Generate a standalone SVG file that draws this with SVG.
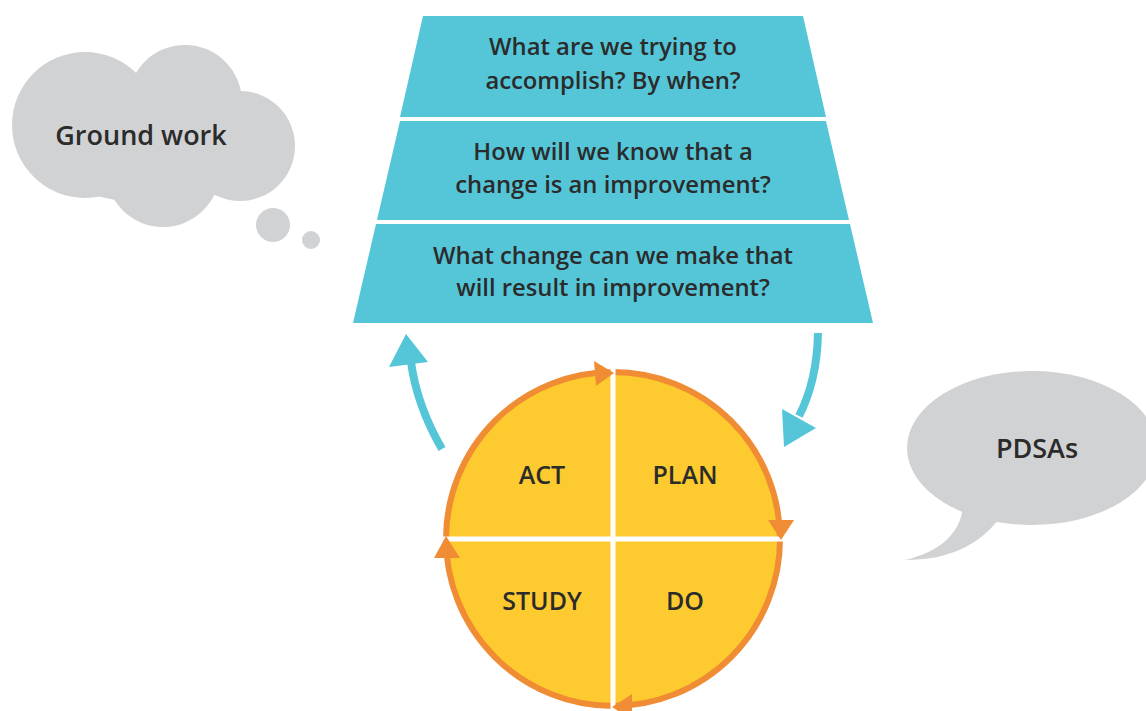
<svg xmlns="http://www.w3.org/2000/svg" width="1146" height="711" viewBox="0 0 1146 711">
<style>
.t{font-family:"Open Sans","Noto Sans","Liberation Sans",sans-serif;font-weight:600;fill:#2b2b2b;text-anchor:middle}
.q{font-size:23.8px}
.c{font-size:25px}
.b{font-size:27px}
.band{fill:#54C6D8}
.gray{fill:#D1D2D4}
.orange{fill:#F08C33}
.blue{fill:#54C6D8}
.shaft{fill:none;stroke:#54C6D8;stroke-width:8}
</style>
<rect width="1146" height="711" fill="#ffffff"/>

<g id="cloud-groundwork">
  <circle class="gray" cx="85" cy="125" r="73"/>
  <circle class="gray" cx="185" cy="102" r="57"/>
  <circle class="gray" cx="240" cy="146" r="55"/>
  <circle class="gray" cx="163" cy="170" r="57"/>
  <ellipse class="gray" cx="150" cy="145" rx="110" ry="58"/>
  <circle class="gray" cx="273" cy="225" r="17"/>
  <circle class="gray" cx="311" cy="240" r="9"/>
  <text class="t b" x="141" y="145">Ground work</text>
</g>

<g id="q1">
  <polygon class="band" points="423,16 803,16 826,117 400,117"/>
  <text class="t q" x="613" y="55">What are we trying to</text>
  <text class="t q" x="613" y="89">accomplish? By when?</text>
</g>
<g id="q2">
  <polygon class="band" points="400,121 826,121 849,220 377,220"/>
  <text class="t q" x="613" y="160">How will we know that a</text>
  <text class="t q" x="613" y="193">change is an improvement?</text>
</g>
<g id="q3">
  <polygon class="band" points="376,224 850,224 873,323 353,323"/>
  <text class="t q" x="613" y="264">What change can we make that</text>
  <text class="t q" x="613" y="296">will result in improvement?</text>
</g>

<g id="pdsa-cycle">
  <circle cx="613" cy="539" r="167" fill="#FDCB2F" stroke="#F08C33" stroke-width="6"/>
  <line x1="613" y1="369" x2="613" y2="711" stroke="#ffffff" stroke-width="5"/>
  <line x1="443" y1="539" x2="783" y2="539" stroke="#ffffff" stroke-width="5"/>
  <polygon class="orange" points="614,373 594,361 596,386"/>
  <polygon class="orange" points="781,540 768,520 794,520"/>
  <polygon class="orange" points="612,707 632,694 632,720"/>
  <polygon class="orange" points="446,536 434,558 460,558"/>
  <text class="t c" x="542" y="484">ACT</text>
  <text class="t c" x="685" y="484">PLAN</text>
  <text class="t c" x="542" y="610">STUDY</text>
  <text class="t c" x="685" y="610">DO</text>
</g>

<g id="bubble-pdsas">
  <ellipse class="gray" cx="1032" cy="448" rx="125" ry="77"/>
  <path class="gray" d="M963,505 C962,532 940,552 905,560 C948,560 978,546 1000,518 Z"/>
  <text class="t b" x="1037" y="458">PDSAs</text>
</g>

<g id="connectors">
  <path class="shaft" d="M442,449 Q417,406 411,362"/>
  <polygon class="blue" points="406,334 389,367 428,362"/>
  <path class="shaft" d="M818,333 Q817,381 799,416"/>
  <polygon class="blue" points="784,447 782,409 816,428"/>
</g>
</svg>
